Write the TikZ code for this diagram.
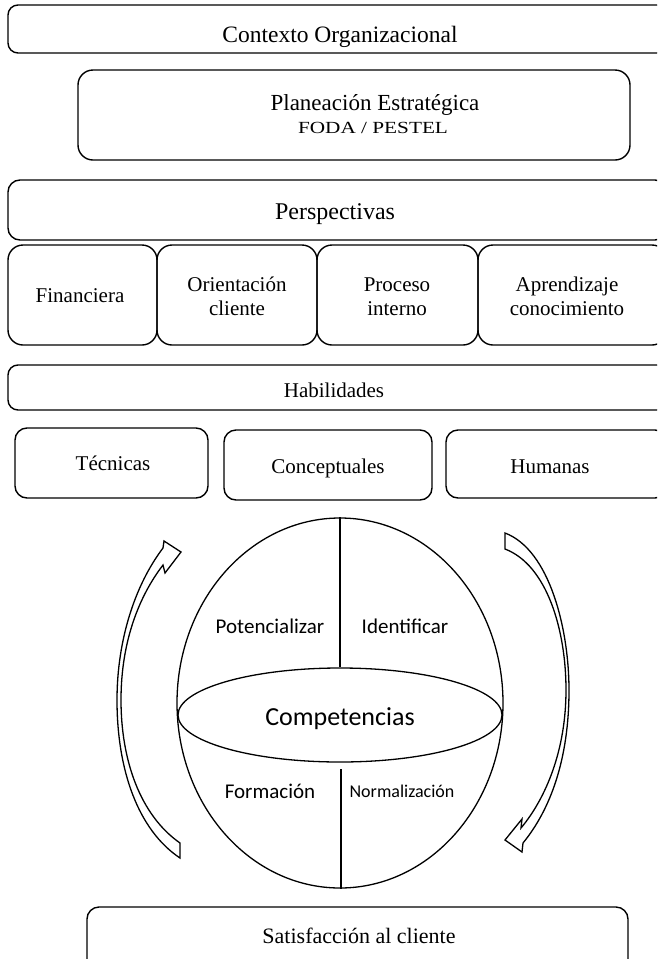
\documentclass[tikz,border=0pt]{standalone}
\usepackage{fontspec}
\usepackage{graphicx}
\setmainfont{Liberation Serif}
\newfontfamily\calfont{Carlito}
\usetikzlibrary{shapes.geometric}
\tikzset{
  box/.style={draw, rounded corners=12pt, line width=1.4pt, inner sep=0pt},
  ser/.style={inner sep=0pt, anchor=base, font=\fontsize{21}{24}\selectfont},
  ser2/.style={inner sep=0pt, anchor=center, align=center, font=\fontsize{21}{24}\selectfont},
  sans/.style={inner sep=0pt, anchor=base, font=\calfont\fontsize{21}{24}\selectfont},
  ring/.style={draw, ellipse, line width=1.3pt, inner sep=0pt},
  cline/.style={line width=1.3pt},
  barrow/.style={draw, line width=1.3pt, fill=white, line join=miter}
}
\begin{document}
\begin{tikzpicture}[x=1pt,y=-1pt]
\useasboundingbox (0,0) rectangle (657,959);
\clip (0,0) rectangle (657,959);
% boxes
\node[box, rounded corners=10pt, minimum width=659pt, minimum height=48pt] (ctx) at (337.5,29) {};
\node[box, rounded corners=15pt, minimum width=552pt, minimum height=90pt] (plan) at (354,115) {};
\node[box, minimum width=659pt, minimum height=60pt] (persp) at (337.5,210) {};
\node[box, rounded corners=15pt, minimum width=149pt, minimum height=100pt] (fin) at (82.5,295) {};
\node[box, rounded corners=15pt, minimum width=160pt, minimum height=100pt] (ori) at (237,295) {};
\node[box, rounded corners=15pt, minimum width=161pt, minimum height=100pt] (pro) at (397.5,295) {};
\node[box, rounded corners=15pt, minimum width=189pt, minimum height=100pt] (apr) at (572.5,295) {};
\node[box, rounded corners=10pt, minimum width=659pt, minimum height=45pt] (hab) at (337.5,387.5) {};
\node[box, minimum width=193pt, minimum height=70pt] (tec) at (111.5,463) {};
\node[box, minimum width=208pt, minimum height=70pt] (con) at (328,465) {};
\node[box, minimum width=221pt, minimum height=68pt] (hum) at (556.5,464) {};
\node[box, minimum width=541pt, minimum height=66pt] (sat) at (357.5,940) {};
% texts
\node[ser, font=\fontsize{23.5}{27}\selectfont] (ctxT) at (340,42) {Contexto Organizacional};
\node[ser, font=\fontsize{23}{27}\selectfont] (planT) at (375,110) {Planeación Estratégica};
\node[ser] (planS) at (373,133) {\scalebox{1.25}[1]{\fontsize{17}{19}\selectfont FODA / PESTEL}};
\node[ser, font=\fontsize{24}{27}\selectfont] (perspT) at (335,219) {Perspectivas};
\node[ser] (finT) at (80,302) {Financiera};
\node[ser2] (oriT) at (237,296.5) {Orientación\\cliente};
\node[ser2] (proT) at (397,296.5) {Proceso\\interno};
\node[ser2] (aprT) at (567,296.5) {Aprendizaje\\conocimiento};
\node[ser] (habT) at (334,397) {Habilidades};
\node[ser] (tecT) at (113,470) {Técnicas};
\node[ser] (conT) at (328,473) {Conceptuales};
\node[ser] (humT) at (550,473) {Humanas};
\node[ser, font=\fontsize{22}{26}\selectfont] (satT) at (359,943) {Satisfacción al cliente};
% competencias sphere
\node[ring, minimum width=326pt, minimum height=370pt] (big) at (340,703) {};
\node[ring, minimum width=324pt, minimum height=94pt] (comp) at (340,715) {};
\coordinate (low) at (341,769);
\draw[cline] (big.north) -- (comp.north);
\draw[cline] (low) -- (big.south -| low);
\node[sans] (potT) at (270,633) {Potencializar};
\node[sans] (ideT) at (405,633) {Identificar};
\node[sans, font=\calfont\fontsize{26}{30}\selectfont] (compT) at (340,725) {Competencias};
\node[sans] (forT) at (270,798) {Formación};
\node[sans, font=\calfont\fontsize{18}{21}\selectfont] (norT) at (402,797) {Normalización};
% left curved block arrow
\draw[barrow] (180,858) -- (180,843)
  .. controls (140,815) and (121,760) .. (121,700)
  .. controls (121,640) and (140,595) .. (163,565)
  -- (165,573) -- (181,552) -- (164,541) -- (163,548)
  .. controls (135,585) and (117,640) .. (117,700)
  .. controls (117,770) and (138,830) .. (180,858) -- cycle;
% right curved block arrow
\draw[barrow] (505,533)
  .. controls (550,550) and (569,630) .. (569,690)
  .. controls (569,760) and (550,810) .. (523,843)
  -- (522,852) -- (505,840) -- (522,819) -- (521,828)
  .. controls (546,798) and (566,750) .. (566,690)
  .. controls (566,630) and (547,565) .. (505,549) -- cycle;
\end{tikzpicture}
\end{document}
